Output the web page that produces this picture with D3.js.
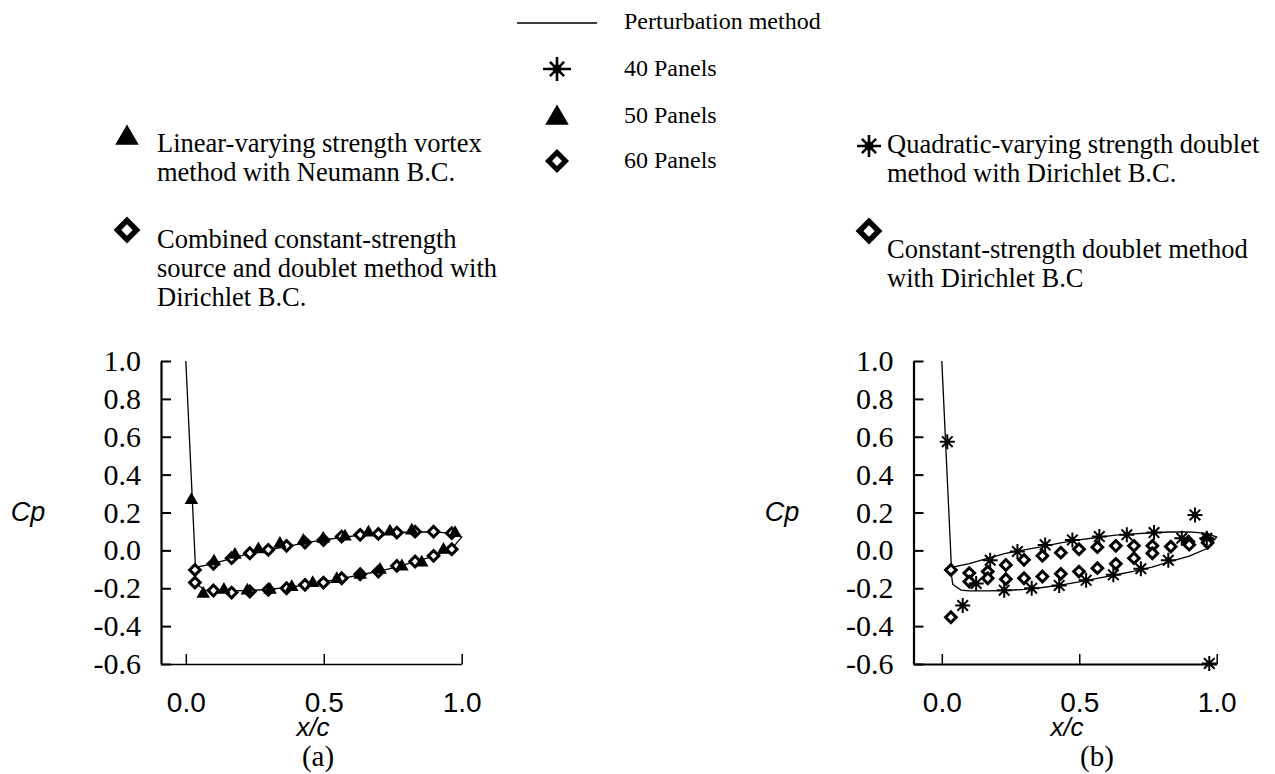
<!DOCTYPE html>
<html>
<head>
<meta charset="utf-8">
<script src="https://cdn.jsdelivr.net/npm/d3@7/dist/d3.min.js"></script>
<style>
  body { margin: 0; background: #fff; }
  svg { display: block; }
</style>
</head>
<body>
<div id="chart"></div>
<script>
// ---- data (x/c, Cp) ----
const xTicks = [0.0, 0.5, 1.0];
const yTicks = [1.0, 0.8, 0.6, 0.4, 0.2, 0.0, -0.2, -0.4, -0.6];

// perturbation solution: stagnation point, upper surface LE->TE, lower surface TE->LE
const perturbX = [0.0, 0.035, 0.1, 0.166, 0.232, 0.3, 0.365, 0.432, 0.5, 0.565, 0.632, 0.7, 0.765, 0.83, 0.9, 0.965, 1.0,
  0.965, 0.9, 0.83, 0.765, 0.7, 0.632, 0.565, 0.5, 0.432, 0.365, 0.3, 0.232, 0.166, 0.1, 0.07, 0.04, 0.036, 0.035];
const perturbCp = [1.0, -0.09, -0.07, -0.042, -0.016, 0.003, 0.02, 0.04, 0.055, 0.068, 0.08, 0.087, 0.093, 0.097, 0.098, 0.09, 0.07,
  0.01, -0.03, -0.06, -0.088, -0.11, -0.13, -0.148, -0.166, -0.183, -0.196, -0.206, -0.212, -0.214, -0.214, -0.21, -0.18, -0.14, -0.09];

// (a) linear-varying strength vortex, 50 panels
const vortex50X = [0.02, 0.102, 0.178, 0.263, 0.341, 0.426, 0.498, 0.577, 0.662, 0.74, 0.819, 0.976,
  0.063, 0.138, 0.223, 0.305, 0.384, 0.46, 0.547, 0.632, 0.704, 0.783, 0.855, 0.934];
const vortex50Cp = [0.266, -0.059, -0.024, 0.006, 0.034, 0.05, 0.061, 0.073, 0.094, 0.099, 0.105, 0.091,
  -0.23, -0.208, -0.212, -0.208, -0.194, -0.173, -0.152, -0.129, -0.103, -0.085, -0.064, 0.003];

// (a) combined constant-strength source and doublet, 60 panels
const combined60X = [0.033, 0.1, 0.166, 0.232, 0.299, 0.365, 0.432, 0.499, 0.565, 0.632, 0.698, 0.765, 0.831, 0.898, 0.964,
  0.033, 0.1, 0.166, 0.232, 0.299, 0.365, 0.432, 0.499, 0.565, 0.632, 0.698, 0.765, 0.831, 0.898, 0.964];
const combined60Cp = [-0.103, -0.071, -0.041, -0.015, 0.003, 0.024, 0.041, 0.055, 0.073, 0.082, 0.087, 0.094, 0.099, 0.099, 0.091,
  -0.17, -0.212, -0.223, -0.217, -0.208, -0.2, -0.182, -0.17, -0.147, -0.126, -0.112, -0.082, -0.059, -0.029, 0.006];

// (b) quadratic-varying strength doublet, 40 panels
const quad40X = [0.02, 0.176, 0.275, 0.376, 0.475, 0.573, 0.673, 0.772, 0.873, 0.921, 0.964,
  0.076, 0.125, 0.227, 0.327, 0.427, 0.525, 0.624, 0.724, 0.824, 0.973];
const quad40Cp = [0.574, -0.052, -0.006, 0.029, 0.055, 0.073, 0.082, 0.094, 0.064, 0.187, 0.064,
  -0.291, -0.175, -0.21, -0.2, -0.185, -0.158, -0.129, -0.097, -0.052, -0.597];

// (b) constant-strength doublet, 60 panels
const const60X = [0.033, 0.033, 0.1, 0.1, 0.167, 0.167, 0.233, 0.233, 0.299, 0.299, 0.366, 0.366, 0.433, 0.433,
  0.499, 0.499, 0.566, 0.566, 0.633, 0.633, 0.699, 0.699, 0.766, 0.766, 0.833, 0.897, 0.9, 0.964, 0.967];
const const60Cp = [-0.103, -0.353, -0.12, -0.165, -0.112, -0.147, -0.077, -0.152, -0.05, -0.147, -0.029, -0.138, -0.012, -0.124,
  0.006, -0.112, 0.017, -0.094, 0.024, -0.071, 0.024, -0.041, 0.024, -0.015, 0.02, 0.046, 0.03, 0.06, 0.04];

const SERIF = '"Liberation Serif", "Times New Roman", serif';
const SANS = '"Liberation Sans", Arial, sans-serif';

const W = 1275, H = 774;
const svg = d3.select('#chart').append('svg').attr('width', W).attr('height', H);

// ---- marker helpers ----
function starPath(rh, rv, rd) {
  const d = rd / Math.SQRT2;
  return `M${-rh},0L${rh},0M0,${-rv}L0,${rv}M${-d},${-d}L${d},${d}M${-d},${d}L${d},${-d}`;
}
function drawStar(g, x, y, rh, rv, rd, sw, dot) {
  g.append('path').attr('d', starPath(rh, rv, rd)).attr('transform', `translate(${x},${y})`)
    .attr('stroke', '#000').attr('stroke-width', sw).attr('fill', 'none');
  g.append('circle').attr('cx', x).attr('cy', y).attr('r', dot).attr('fill', '#000');
}
function drawDiamond(g, x, y, side, sw) {
  g.append('path').attr('d', d3.symbol(d3.symbolSquare, side * side)())
    .attr('transform', `translate(${x},${y}) rotate(45)`)
    .attr('fill', '#fff').attr('stroke', '#000').attr('stroke-width', sw);
}
function drawTriangle(g, x, y, area) {
  g.append('path').attr('d', d3.symbol(d3.symbolTriangle, area)())
    .attr('transform', `translate(${x},${y})`).attr('fill', '#000');
}

// ---- one panel ----
function panel(opt) {
  const x = d3.scaleLinear().domain([opt.xMin, 1.0]).range([opt.left, opt.right]);
  const y = d3.scaleLinear().domain([-0.6, 1.0]).range([664, 361]);
  const g = svg.append('g');

  const yAxis = g.append('g').attr('transform', `translate(${opt.left},0)`)
    .call(d3.axisLeft(y).tickValues(yTicks).tickFormat(d => d.toFixed(1))
      .tickSizeInner(-10).tickSizeOuter(0).tickPadding(20));
  yAxis.attr('font-family', SERIF).attr('font-size', 30);
  yAxis.selectAll('text').style('font-family', SERIF).style('font-size', '30px').attr('fill', '#000');
  yAxis.selectAll('line').attr('stroke', '#000').attr('stroke-width', 2);
  yAxis.select('.domain').attr('stroke', '#000').attr('stroke-width', 2.2);

  const xAxis = g.append('g').attr('transform', 'translate(0,664)')
    .call(d3.axisBottom(x).tickValues(xTicks).tickFormat(d => d.toFixed(1))
      .tickSizeInner(-10).tickSizeOuter(0).tickPadding(28));
  xAxis.attr('font-family', SANS).attr('font-size', 28);
  xAxis.selectAll('text').style('font-family', SANS).style('font-size', '28px').attr('fill', '#000');
  xAxis.selectAll('line').attr('stroke', '#000').attr('stroke-width', 1.5);
  xAxis.select('.domain').attr('stroke', '#000').attr('stroke-width', opt.xAxisWidth);

  g.append('text').style('font-family', SANS).attr('font-style', 'italic').attr('font-size', 27)
    .attr('x', opt.cpX).attr('y', 521).attr('text-anchor', 'middle').text('Cp');
  g.append('text').style('font-family', SANS).attr('font-style', 'italic').attr('font-size', 26)
    .attr('x', opt.xcX).attr('y', 736).attr('text-anchor', 'middle').text('x/c');
  g.append('text').style('font-family', SERIF).attr('font-size', 29)
    .attr('x', opt.tagX).attr('y', 766).attr('text-anchor', 'middle').text(opt.tag);

  const line = d3.line().x(d => x(d[0])).y(d => y(d[1]));
  g.append('path').datum(perturbX.map((v, i) => [v, perturbCp[i]]))
    .attr('d', line).attr('fill', 'none').attr('stroke', '#000').attr('stroke-width', 1.3);

  opt.series.forEach(s => {
    s.xs.forEach((v, i) => {
      const px = x(v), py = y(s.cps[i]);
      if (s.kind === 'tri') drawTriangle(g, px, py, 80);
      else if (s.kind === 'dia') drawDiamond(g, px, py, 7.5, 3);
      else drawStar(g, px, py, 7.5, 7.5, 7.5, 2, 2.6);
    });
  });
}

panel({
  left: 161, right: 461.7, xMin: -0.09, xAxisWidth: 1.3, cpX: 28, xcX: 313, tagX: 318, tag: '(a)',
  series: [
    { kind: 'dia', xs: combined60X, cps: combined60Cp },
    { kind: 'tri', xs: vortex50X, cps: vortex50Cp }
  ]
});
panel({
  left: 913.5, right: 1216.7, xMin: -0.103, xAxisWidth: 2, cpX: 782, xcX: 1067, tagX: 1097, tag: '(b)',
  series: [
    { kind: 'dia', xs: const60X, cps: const60Cp },
    { kind: 'star', xs: quad40X, cps: quad40Cp }
  ]
});

// ---- legend (top centre) ----
const leg = svg.append('g');
leg.append('line').attr('x1', 517).attr('x2', 597).attr('y1', 23).attr('y2', 23)
  .attr('stroke', '#000').attr('stroke-width', 1.5);
drawStar(leg, 557, 69, 14, 12, 10, 2.6, 4.5);
drawTriangle(leg, 557, 118, 240);
drawDiamond(leg, 557, 161, 12, 5);
const legText = ['Perturbation method', '40 Panels', '50 Panels', '60 Panels'];
const legBase = [29, 76, 123, 168];
legText.forEach((t, i) => {
  leg.append('text').style('font-family', SERIF).attr('font-size', 24)
    .attr('x', 624).attr('y', legBase[i]).text(t);
});

// ---- method notes ----
function note(x, y0, lines) {
  const t = svg.append('text').style('font-family', SERIF).attr('font-size', 26.5);
  lines.forEach((s, i) => t.append('tspan').attr('x', x).attr('y', y0 + i * 29).text(s));
}
drawTriangle(svg, 127, 138, 240);
note(157, 152, ['Linear-varying strength vortex', 'method with Neumann B.C.']);
drawDiamond(svg, 127, 230, 13.5, 5.5);
note(157, 248, ['Combined constant-strength', 'source and doublet method with', 'Dirichlet B.C.']);

drawStar(svg, 869, 146, 12, 11, 10, 2.6, 4.5);
note(887, 153, ['Quadratic-varying strength doublet', 'method with Dirichlet B.C.']);
drawDiamond(svg, 869, 231, 13.5, 5.5);
note(887, 258, ['Constant-strength doublet method', 'with Dirichlet B.C']);
</script>
</body>
</html>
